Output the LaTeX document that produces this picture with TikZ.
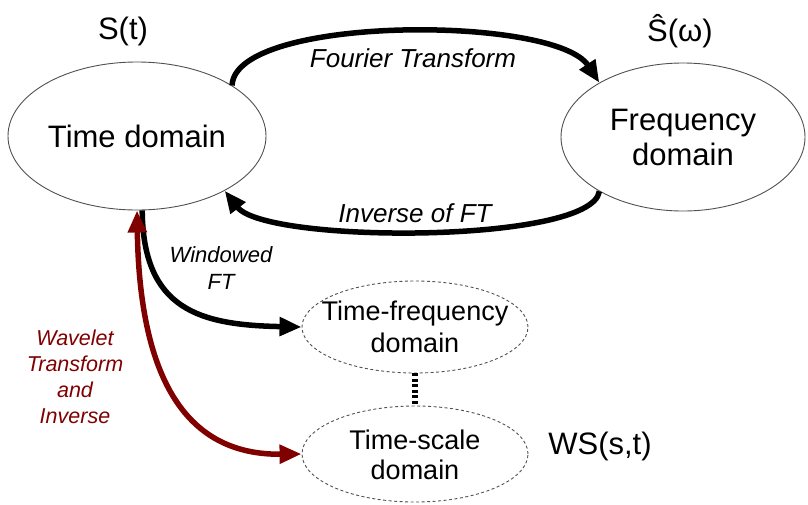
\documentclass[tikz,border=0pt]{standalone}
\usepackage{fontspec}
\setmainfont{Liberation Sans}
\usetikzlibrary{arrows.meta,shapes.geometric}
\definecolor{wred}{RGB}{128,0,0}
\definecolor{outl}{RGB}{80,80,80}
\tikzset{
  dom/.style={ellipse, draw=outl, line width=0.9pt, inner sep=0pt, align=center},
  ddom/.style={ellipse, draw=outl, line width=0.9pt, dash pattern=on 3pt off 2.5pt, inner sep=0pt, align=center},
  bigarrow/.style={line width=5.5pt, -{Triangle[length=22pt,width=18pt]}},
  lbl/.style={font=\fontsize{31}{36}\selectfont},
  itl/.style={font=\fontsize{26}{30}\selectfont\itshape},
}
\begin{document}
\begin{tikzpicture}[x=1pt,y=-1pt]
\path[use as bounding box] (0,0) rectangle (808,504);
% domains
\node[dom, minimum width=258pt, minimum height=148pt, font=\fontsize{31}{36}\selectfont] (td) at (137,136) {Time domain};
\node[dom, minimum width=244pt, minimum height=148pt, font=\fontsize{31}{35}\selectfont] (fd) at (683,137) {Frequency\\domain};
\node[ddom, minimum width=226pt, minimum height=92pt] (tf) at (415,327) {};
\node[align=center, font=\fontsize{27}{32}\selectfont] (tftext) at (415,327) {Time-frequency\\domain};
\node[ddom, minimum width=226pt, minimum height=96pt] (ts) at (415,454) {};
\node[align=center, font=\fontsize{27}{30}\selectfont] (tstext) at (415,455) {Time-scale\\domain};
% signal labels
\node[lbl] (st) at (123,31) {S(t)};
\node[lbl] (sw) at (680,31) {Ŝ(ω)};
\node[lbl] (ws) at (600,446) {WS(s,t)};
% FT arrows
\draw[bigarrow] (td.28) .. controls (235,15) and (555,15) .. (fd.147);
\draw[bigarrow] (fd.-147) .. controls (592,244) and (266,244) .. (td.-32);
\node[itl] (ftl) at (413,58) {Fourier Transform};
\node[itl] (ifl) at (415,213) {Inverse of FT};
% windowed FT
\draw[bigarrow] (td.-86) .. controls (143,310) and (200,325) .. (tf.west);
\node[font=\fontsize{22}{27}\selectfont\itshape, align=center] (wfl) at (221,268) {Windowed\\FT};
% wavelet
\draw[line width=5.5pt, wred, {Triangle[length=22pt,width=18pt]}-{Triangle[length=22pt,width=18pt]}] (td.south) .. controls (140,400) and (200,455) .. (ts.west);
\node[font=\fontsize{21.5}{26}\selectfont\itshape, text=wred, align=center] (wtl) at (75,377) {Wavelet\\Transform\\and\\Inverse};
% link between time-frequency and time-scale
\draw[line width=6pt, dash pattern=on 3pt off 2.5pt] (tf.south) -- (ts.north);
\end{tikzpicture}
\end{document}
